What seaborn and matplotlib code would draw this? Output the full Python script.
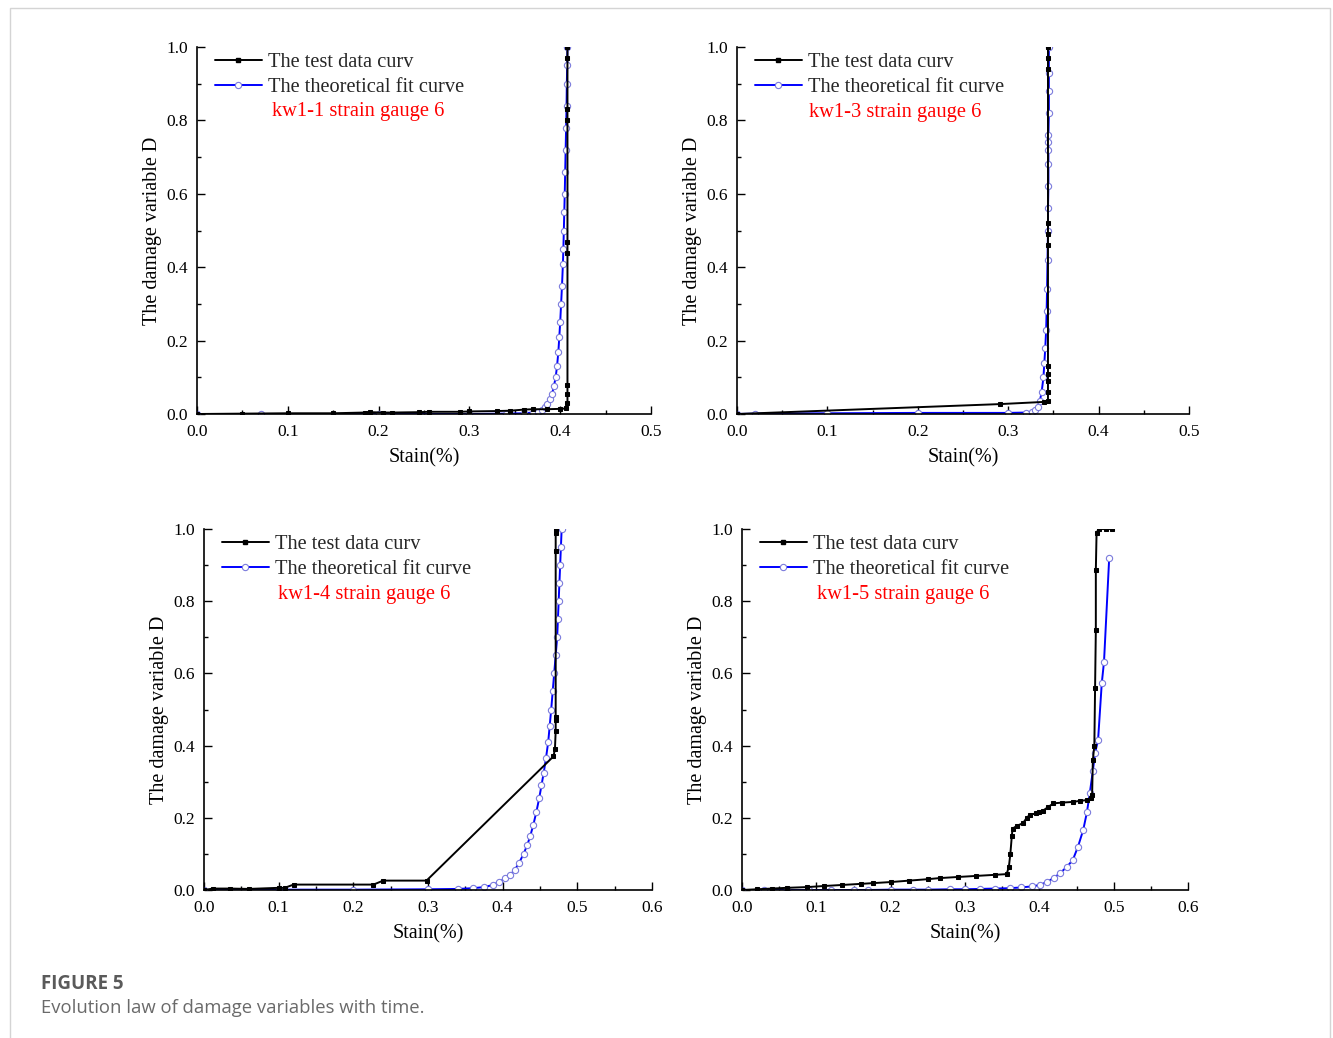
import numpy as np
import pandas as pd
import seaborn as sns
import matplotlib
matplotlib.use("Agg")
import matplotlib.pyplot as plt
from matplotlib.lines import Line2D
from matplotlib.patches import Rectangle
from matplotlib.ticker import MultipleLocator

# ---------------- data ----------------
p1_test_x = [0.000, 0.050, 0.100, 0.150, 0.185, 0.190, 0.205, 0.215, 0.245, 0.255, 0.290, 0.300, 0.330, 0.345,
             0.360, 0.370, 0.385, 0.400, 0.406, 0.408, 0.408, 0.408, 0.408, 0.408, 0.408, 0.408, 0.408, 0.408]
p1_test_y = [0.000, 0.001, 0.002, 0.002, 0.004, 0.005, 0.004, 0.004, 0.005, 0.006, 0.006, 0.007, 0.008, 0.009,
             0.012, 0.013, 0.013, 0.014, 0.015, 0.030, 0.055, 0.080, 0.440, 0.470, 0.800, 0.830, 0.970, 1.000]
p1_fit_x = [0.000, 0.070, 0.200, 0.300, 0.340, 0.360, 0.370, 0.375, 0.380, 0.383, 0.386, 0.389, 0.391, 0.393,
            0.395, 0.3965, 0.398, 0.399, 0.400, 0.401, 0.402, 0.403, 0.4035, 0.404, 0.4045, 0.405, 0.4055,
            0.406, 0.4065, 0.407, 0.4073, 0.4077, 0.408]
p1_fit_y = [0.000, 0.000, 0.000, 0.000, 0.001, 0.002, 0.004, 0.006, 0.012, 0.018, 0.027, 0.040, 0.055, 0.075,
            0.100, 0.130, 0.170, 0.210, 0.250, 0.300, 0.350, 0.410, 0.450, 0.500, 0.550, 0.600, 0.660,
            0.720, 0.780, 0.840, 0.900, 0.950, 1.000]

p2_test_x = [0.000, 0.291, 0.340, 0.344, 0.344, 0.344, 0.344, 0.344, 0.344, 0.344, 0.344, 0.344, 0.344, 0.344]
p2_test_y = [0.000, 0.027, 0.033, 0.035, 0.060, 0.090, 0.110, 0.130, 0.460, 0.490, 0.520, 0.940, 0.970, 1.000]
p2_fit_x = [0.000, 0.020, 0.100, 0.200, 0.300, 0.320, 0.326, 0.330, 0.333, 0.335, 0.337, 0.339, 0.340, 0.341,
            0.342, 0.3425, 0.343, 0.3435, 0.344, 0.344, 0.3445, 0.3445, 0.3445, 0.3445, 0.3445, 0.345,
            0.345, 0.345, 0.345]
p2_fit_y = [0.000, 0.001, 0.002, 0.003, 0.003, 0.004, 0.006, 0.010, 0.020, 0.035, 0.060, 0.100, 0.140, 0.180,
            0.230, 0.280, 0.340, 0.420, 0.500, 0.560, 0.620, 0.680, 0.720, 0.740, 0.760, 0.820,
            0.880, 0.930, 1.000]

p3_test_x = [0.000, 0.012, 0.035, 0.060, 0.100, 0.108, 0.120, 0.227, 0.240, 0.298, 0.468, 0.470, 0.471, 0.471,
             0.471, 0.471, 0.471, 0.471]
p3_test_y = [0.000, 0.004, 0.004, 0.003, 0.006, 0.006, 0.015, 0.015, 0.026, 0.026, 0.370, 0.390, 0.440, 0.470,
             0.480, 0.940, 0.990, 1.000]
p3_fit_x = [0.000, 0.100, 0.200, 0.300, 0.340, 0.360, 0.375, 0.387, 0.395, 0.403, 0.410, 0.416, 0.422, 0.428,
            0.433, 0.437, 0.441, 0.445, 0.449, 0.452, 0.455, 0.458, 0.461, 0.463, 0.465, 0.467, 0.469,
            0.471, 0.473, 0.474, 0.475, 0.476, 0.477, 0.478, 0.479]
p3_fit_y = [0.000, 0.001, 0.001, 0.002, 0.003, 0.005, 0.008, 0.014, 0.022, 0.032, 0.042, 0.055, 0.075, 0.100,
            0.125, 0.150, 0.180, 0.215, 0.255, 0.290, 0.325, 0.365, 0.410, 0.455, 0.500, 0.550, 0.600,
            0.650, 0.700, 0.750, 0.800, 0.850, 0.900, 0.950, 1.000]

p4_test_x = [0.000, 0.020, 0.040, 0.060, 0.087, 0.110, 0.135, 0.160, 0.176, 0.200, 0.225, 0.250, 0.266, 0.290,
             0.315, 0.340, 0.356, 0.359, 0.361, 0.363, 0.364, 0.370, 0.378, 0.383, 0.387, 0.395, 0.400,
             0.405, 0.412, 0.419, 0.430, 0.445, 0.455, 0.464, 0.469, 0.471, 0.472, 0.474, 0.475, 0.476,
             0.476, 0.477, 0.480, 0.490, 0.498]
p4_test_y = [0.000, 0.002, 0.004, 0.006, 0.008, 0.011, 0.014, 0.017, 0.019, 0.022, 0.026, 0.030, 0.033, 0.036,
             0.039, 0.042, 0.044, 0.064, 0.100, 0.150, 0.170, 0.178, 0.185, 0.200, 0.208, 0.212, 0.216,
             0.220, 0.230, 0.240, 0.242, 0.244, 0.247, 0.249, 0.255, 0.263, 0.360, 0.400, 0.560, 0.720,
             0.886, 0.990, 1.000, 1.000, 1.000]
p4_fit_x = [0.000, 0.030, 0.060, 0.090, 0.120, 0.150, 0.170, 0.200, 0.230, 0.250, 0.280, 0.300, 0.320, 0.340,
            0.360, 0.375, 0.390, 0.401, 0.410, 0.420, 0.428, 0.437, 0.445, 0.452, 0.459, 0.464, 0.468,
            0.472, 0.475, 0.479, 0.484, 0.487, 0.494]
p4_fit_y = [0.000, 0.000, 0.000, 0.000, 0.000, 0.000, 0.000, 0.001, 0.001, 0.001, 0.002, 0.002, 0.003, 0.004,
            0.005, 0.007, 0.010, 0.014, 0.022, 0.034, 0.047, 0.064, 0.083, 0.120, 0.166, 0.215, 0.270,
            0.330, 0.380, 0.415, 0.573, 0.632, 0.920]

panel_labels = ["kw1-1 strain gauge 6", "kw1-3 strain gauge 6", "kw1-4 strain gauge 6", "kw1-5 strain gauge 6"]
legend_labels = ["The test data curv", "The theoretical fit curve"]
x_maxes = [0.5, 0.5, 0.6, 0.6]
xlabel = "Stain(%)"
ylabel = "The damage variable D"
caption_title = "FIGURE 5"
caption_text = "Evolution law of damage variables with time."

# ---------------- style ----------------
sns.set_theme(style="ticks")
plt.rcParams['font.family'] = ['Liberation Serif', 'DejaVu Serif']

W, H = 1333, 1038
fig = plt.figure(figsize=(W / 100, H / 100), dpi=100)
fig.patch.set_facecolor('white')

# outer frame
fig.add_artist(Rectangle((10 / W, -0.05), 1320 / W, 1 - 8 / H + 0.05, transform=fig.transFigure,
                         fill=False, edgecolor='#d4d4d4', linewidth=1.0))

# axes positions (pixels: left, right, top, bottom)
pos_px = [(197, 651, 47, 414), (737, 1189, 47, 414), (204, 652, 529, 890), (742, 1188, 529, 890)]

panels = [(p1_test_x, p1_test_y, p1_fit_x, p1_fit_y),
          (p2_test_x, p2_test_y, p2_fit_x, p2_fit_y),
          (p3_test_x, p3_test_y, p3_fit_x, p3_fit_y),
          (p4_test_x, p4_test_y, p4_fit_x, p4_fit_y)]

blue = '#0000ff'
circ_edge = '#7b7bdc'

for i, ((tx, ty, fx, fy), (l, r, t, b)) in enumerate(zip(panels, pos_px)):
    ax = fig.add_axes([l / W, 1 - b / H, (r - l) / W, (b - t) / H])
    df_t = pd.DataFrame({"x": tx, "y": ty})
    df_f = pd.DataFrame({"x": fx, "y": fy})
    sns.lineplot(data=df_f, x="x", y="y", sort=False, estimator=None, ax=ax, color=blue, linewidth=1.4,
                 marker='o', markersize=4.5, markerfacecolor='white', markeredgecolor=circ_edge,
                 markeredgewidth=0.8, zorder=2)
    sns.lineplot(data=df_t, x="x", y="y", sort=False, estimator=None, ax=ax, color='black', linewidth=1.4,
                 marker='s', markersize=3.2, markerfacecolor='black', markeredgecolor='black', zorder=3)
    ax.set_xlim(0, x_maxes[i])
    ax.set_ylim(0, 1.0)
    xt = np.round(np.arange(0, x_maxes[i] + 1e-9, 0.1), 1)
    ax.set_xticks(xt)
    ax.set_xticklabels([f"{v:.1f}" for v in xt])
    ax.xaxis.set_minor_locator(MultipleLocator(0.05))
    yt = np.round(np.arange(0, 1.01, 0.2), 1)
    ax.set_yticks(yt)
    ax.set_yticklabels([f"{v:.1f}" for v in yt])
    ax.yaxis.set_minor_locator(MultipleLocator(0.1))
    ax.tick_params(which='both', direction='in', colors='black', labelsize=12.5)
    ax.tick_params(axis='x', which='major', pad=7)
    ax.tick_params(axis='y', which='major', pad=6.5)
    ax.tick_params(which='major', length=6, width=1.0)
    ax.tick_params(which='minor', length=3, width=1.0)
    for s in ['top', 'right']:
        ax.spines[s].set_visible(False)
    for s in ['left', 'bottom']:
        ax.spines[s].set_color('black')
        ax.spines[s].set_linewidth(1.2)
    ax.set_xlabel(xlabel, fontsize=14.5, color='black', labelpad=6)
    ax.set_ylabel(ylabel, fontsize=14.5, color='black', labelpad=3)
    ax.set_facecolor('white')

    handles = [Line2D([], [], color='black', lw=1.4, marker='s', markersize=3.2),
               Line2D([], [], color=blue, lw=1.4, marker='o', markersize=4.5,
                      markerfacecolor='white', markeredgecolor=circ_edge, markeredgewidth=0.8)]
    aw = r - l
    ah = b - t
    ax.legend(handles, legend_labels, loc='upper left',
              bbox_to_anchor=(18 / aw, 1.0 - 6 / ah), frameon=False, fontsize=14.7,
              handlelength=2.3, handletextpad=0.3, labelspacing=0.27,
              borderaxespad=0, borderpad=0)
    red_x = [272, 809, 278, 817][i]
    red_y = [111, 112, 594, 594][i]
    ax.text((red_x - l) / aw, (b - red_y) / ah, panel_labels[i], transform=ax.transAxes,
            color='#ff0000', fontsize=14.8, ha='left', va='center')

fig.text(41 / W, 1 - 984 / H, caption_title, fontsize=13.5, fontweight='bold', color='#5a5a5a',
         family=['Open Sans', 'DejaVu Sans'], va='center', ha='left')
fig.text(41 / W, 1 - 1008 / H, caption_text, fontsize=13.3, color='#6a6a6a',
         family=['Open Sans', 'DejaVu Sans'], va='center', ha='left')

fig.savefig("out.png", dpi=100, facecolor='white')
